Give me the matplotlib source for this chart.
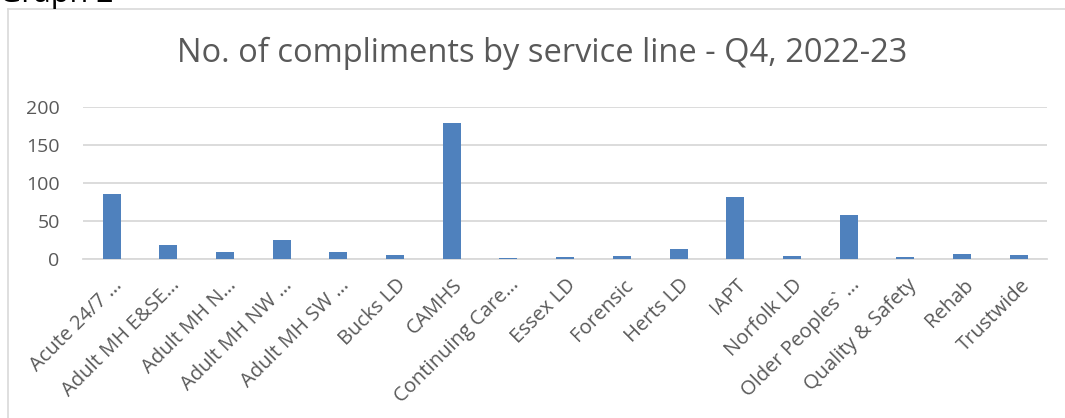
import matplotlib
matplotlib.use("Agg")
import matplotlib.pyplot as plt
import matplotlib.transforms as mtransforms
from matplotlib.lines import Line2D

categories = ["Acute 24/7 \u2026", "Adult MH E&SE\u2026", "Adult MH N\u2026", "Adult MH NW \u2026",
              "Adult MH SW \u2026", "Bucks LD", "CAMHS", "Continuing Care\u2026", "Essex LD",
              "Forensic", "Herts LD", "IAPT", "Norfolk LD", "Older Peoples` \u2026",
              "Quality & Safety", "Rehab", "Trustwide"]
values = [85, 18, 9, 25, 8, 4, 179, 1, 2, 3, 12, 81, 3, 57, 2, 6, 4]
yticks = [0, 50, 100, 150, 200]
title = "No. of compliments by service line - Q4, 2022-23"

W, H = 1065, 418
fig = plt.figure(figsize=(W / 100, H / 100), dpi=100)
fam = ["Open Sans", "DejaVu Sans"]
txt = "#595959"

ax = fig.add_axes([83.3 / W, 1 - 258.5 / H, (1047 - 83.3) / W, (258.5 - 106.7) / H])
x = list(range(len(categories)))
ax.bar(x, values, width=0.317, color="#4f81bd", zorder=3)
ax.set_xlim(-0.5, len(categories) - 0.5)
ax.set_ylim(0, 200)
ax.set_yticks(yticks)
ax.set_yticklabels([str(v) for v in yticks], fontsize=14, color=txt, family=fam)
ax.yaxis.grid(True, color="#d9d9d9", linewidth=1.3, zorder=0)
ax.tick_params(axis="y", length=0, pad=17)
ax.tick_params(axis="x", length=0, pad=12)
ax.set_xticks(x)
ax.set_xticklabels(categories, rotation=45, ha="right", va="top", rotation_mode="anchor",
                   fontsize=14.5, color=txt, family=fam)
shift = mtransforms.ScaledTranslation(1 / 100, 0, fig.dpi_scale_trans)
for lbl in ax.get_xticklabels():
    lbl.set_transform(lbl.get_transform() + shift)
for s in ["top", "right", "left"]:
    ax.spines[s].set_visible(False)
ax.spines["bottom"].set_color("#d9d9d9")
ax.spines["bottom"].set_linewidth(1.3)

fig.text(542 / W, 1 - 62 / H, title, ha="center", va="baseline", fontsize=23.5,
         color=txt, family=fam)

# chart frame (left and top edges visible)
fig.add_artist(Line2D([7.5 / W, 7.5 / W], [0, 1 - 8.5 / H], transform=fig.transFigure,
                      color="#d9d9d9", lw=1.2))
fig.add_artist(Line2D([7.5 / W, 1], [1 - 8.5 / H, 1 - 8.5 / H], transform=fig.transFigure,
                      color="#d9d9d9", lw=1.2))
fig.text(-1 / W, 1 - 2 / H, "Graph 2", ha="left", va="baseline", fontsize=22,
         color="black", family=fam)

fig.savefig("out.png", dpi=100)
